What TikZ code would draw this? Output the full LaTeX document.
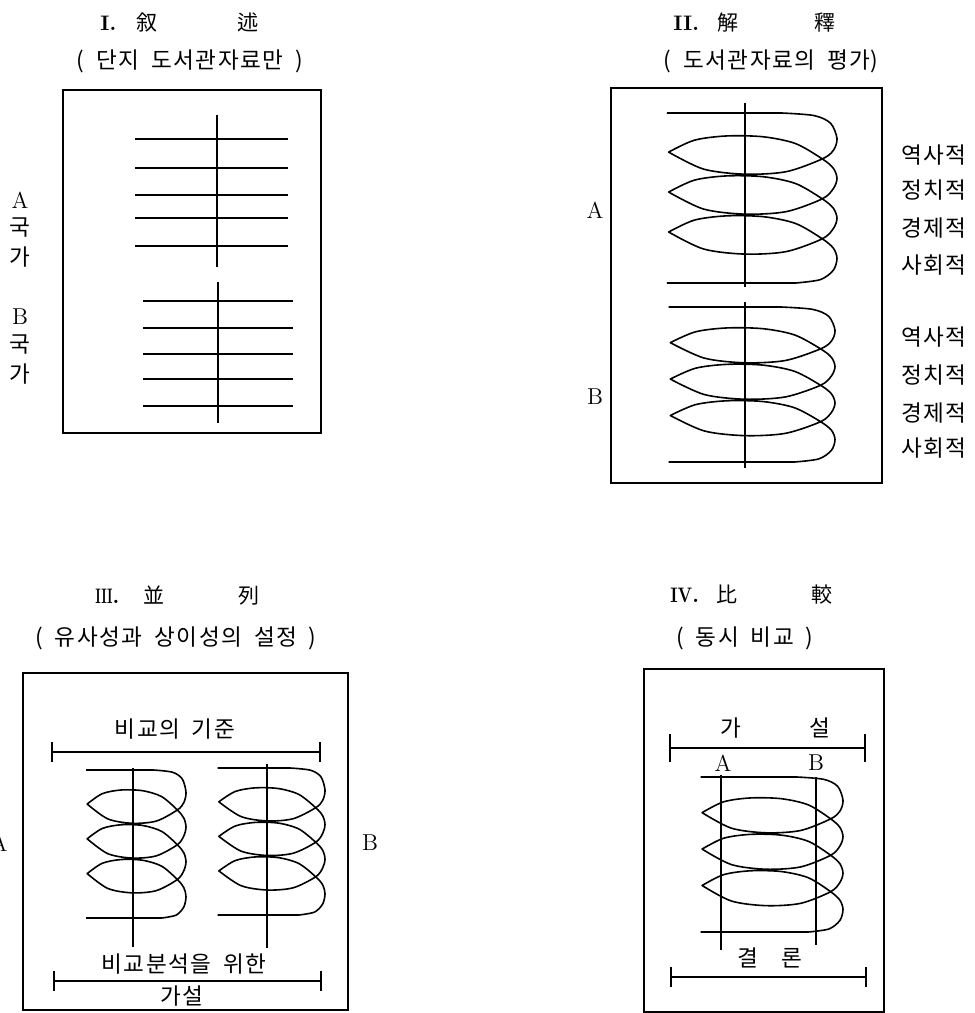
\documentclass[tikz,border=0pt]{standalone}
\usepackage{fontspec}
\newfontfamily\kr[WordSpace=2.3]{Noto Sans CJK KR}
\usetikzlibrary{arrows.meta}

% a little air between hangul syllables
\XeTeXinterchartokenstate=1
\newXeTeXintercharclass\hanclass
\count255="AC00
\loop
  \XeTeXcharclass\count255=\hanclass
  \advance\count255 by 1
\ifnum\count255<"D7A4 \repeat
\XeTeXinterchartoks\hanclass\hanclass={\kern0.8pt}

% one coil: #1 axis x, #2 top y, #3 half width, #4 height
\newcommand{\drawcoil}[4]{%
  \begin{scope}[shift={(#1,#2)}, xscale=#3, yscale=#4]
    \draw[coil] (-0.85,0) -- plot[smooth] coordinates {(0.40,0) (0.75,0.015) (0.93,0.06) (1,0.15) (0.96,0.22) (0.84,0.27) (0.45,0.345) (0,0.36) (-0.45,0.33) (-0.83,0.23)}
      \foreach \t in {0.23,0.465} {
        -- plot[smooth] coordinates {(-0.83,\t) (-0.55,\t-0.07) (-0.2,\t-0.095) (0.2,\t-0.09) (0.55,\t-0.05) (0.84,\t+0.04) (0.96,\t+0.095) (1,\t+0.155) (0.96,\t+0.215) (0.84,\t+0.275) (0.45,\t+0.35) (0,\t+0.365) (-0.45,\t+0.335) (-0.83,\t+0.235)}
      }
      -- plot[smooth] coordinates {(-0.83,0.70) (-0.55,0.63) (-0.2,0.605) (0.2,0.61) (0.55,0.65) (0.84,0.74) (0.96,0.795) (1,0.855) (0.96,0.925) (0.82,0.98) (0.55,1)}
      -- (-0.85,1);
  \end{scope}}

\begin{document}
\begin{tikzpicture}[x=0.5pt, y=-0.5pt,
    kt/.style={font=\fontsize{11.3}{13}\selectfont\kr, inner sep=0},
    lt/.style={font=\fontsize{11.5}{14}\selectfont, inner sep=0},
    tt/.style={font=\fontsize{10.5}{12}\selectfont\kr, inner sep=0, anchor=west},
    box/.style={line width=1pt},
    rule/.style={line width=1.2pt},
    axis/.style={line width=0.8pt},
    coil/.style={line width=0.8pt, line join=round},
    hbar/.style={line width=1.2pt, {Bar[width=10pt]}-{Bar[width=10pt]}}]
  \useasboundingbox (0,0) rectangle (975,1013);

  % I. description
  \node[tt] (t1) at (100,23) {{\rmfamily\bfseries I.}\hspace{10pt}叙\hspace{40pt}述};
  \node[kt] (s1) at (190,61) {( 단지 도서관자료만 )};
  \draw[box] (63,90) rectangle (321,433);
  \draw[axis, line width=1pt] (217,115) -- (217,267);
  \foreach \y in {139,168,195,218,246}
    \draw[rule] (135,\y) -- (288,\y);
  \draw[axis, line width=1pt] (218,282) -- (218,423);
  \foreach \y in {301,328,354,379,406}
    \draw[rule] (143,\y) -- (293,\y);
  \foreach \g/\y in {A/200, B/317} {
    \node[lt] (g\g) at (20,\y) {\g};
    \node[kt] (g\g1) at (20,\y+28) {국};
    \node[kt] (g\g2) at (20,\y+57) {가};
  }

  % II. interpretation
  \node[tt] (t2) at (673,23) {{\rmfamily\bfseries II.}\hspace{9pt}解\hspace{38pt}釋};
  \node[kt] (s2) at (771,61) {( 도서관자료의 평가)};
  \draw[box] (611,88) rectangle (882,483);
  \drawcoil{745}{113}{92}{170}
  \drawcoil{745}{307}{90}{155}
  \draw[axis] (745,103) -- (745,287);
  \draw[axis] (745,302) -- (745,468);
  \node[lt] (iA) at (595,210) {A};
  \node[lt] (iB) at (595,397) {B};
  \foreach \y/\t [count=\i] in {155/역사적, 190/정치적, 228/경제적, 265/사회적,
                                337/역사적, 375/정치적, 413/경제적, 448/사회적}
    \node[kt] (asp\i) at (934,\y) {\t};

  % III. juxtaposition
  \node[tt] (t3) at (95,596) {\scalebox{0.6}[1]{\rmfamily\bfseries III}{\rmfamily\bfseries .}\hspace{12pt}並\hspace{37pt}列};
  \node[kt] (s3) at (176,638) {( 유사성과 상이성의 설정 )};
  \draw[box] (23,673) rectangle (348,1010);
  \node[kt] (crit) at (175,729) {비교의 기준};
  \draw[hbar] (51,752) -- (321,752);
  \drawcoil{132}{770}{54}{148}
  \drawcoil{267}{768}{58}{147}
  \draw[axis] (133,768) -- (133,947);
  \draw[axis] (267,764) -- (267,948);
  \node[lt] (jA) at (-1,843) {A};
  \node[lt] (jB) at (370,843) {B};
  \node[kt] (hyp1) at (184,964) {비교분석을 위한};
  \draw[hbar] (53,981) -- (322,981);
  \node[kt] (hyp2) at (182,996) {가설};

  % IV. comparison
  \node[tt] (t4) at (670,595) {\scalebox{0.8}[1]{\rmfamily\bfseries IV}{\rmfamily\bfseries .}\hspace{8.5pt}比\hspace{37pt}較};
  \node[kt] (s4) at (745,638) {( 동시 비교 )};
  \draw[box] (644,669) rectangle (884,1012);
  \node[kt] (hyp) at (775,728) {가\hspace{34pt}설};
  \draw[hbar, {Bar[width=14pt]}-{Bar[width=14pt]}] (669,748) -- (866,748);
  \node[lt] (cA) at (723,763) {A};
  \node[lt] (cB) at (816,763) {B};
  \drawcoil{766}{777}{77}{155}
  \draw[axis] (721,775) -- (721,950);
  \draw[axis] (816,777) -- (816,945);
  \node[kt] (concl) at (770,958) {결\hspace{12pt}론};
  \draw[hbar] (670,977) -- (867,977);
\end{tikzpicture}
\end{document}
